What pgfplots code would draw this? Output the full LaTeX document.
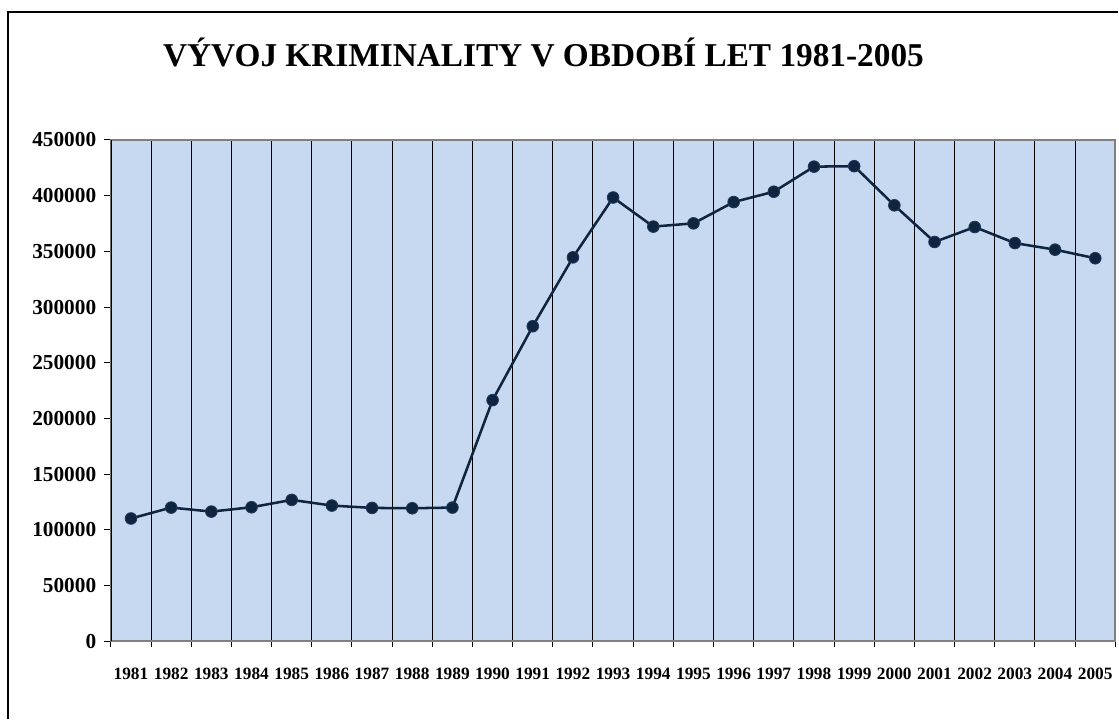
\documentclass[border=0pt]{standalone}
\usepackage{fontspec}
\setmainfont{Liberation Serif}
\usepackage{pgfplots}
\pgfplotsset{compat=1.18}
\definecolor{plotbg}{HTML}{C6D9F0}
\definecolor{navy}{HTML}{0F243E}
\definecolor{navyedge}{HTML}{1F3A60}
\definecolor{framegray}{HTML}{808080}

\begin{document}
\begin{tikzpicture}[x=0.75pt,y=-0.75pt]
% page = 1119 x 720 px, 1px = 0.75pt
\path (0,0) rectangle (1119,720);
\draw[line width=1.5pt] (8,720) -- (8,12) -- (1119,12);
\node[font=\bfseries\fontsize{25}{30}\selectfont, anchor=base] at (544,67)
  {VÝVOJ KRIMINALITY V OBDOBÍ LET 1981-2005};

\begin{axis}[
  at={(83.25pt,-481.5pt)}, anchor=south west,
  scale only axis,
  width=754pt, height=376.5pt,
  xmin=1980.5, xmax=2005.5,
  ymin=0, ymax=450000,
  ytick distance=50000,
  scaled y ticks=false,
  xtick={1981,...,2005},
  minor xtick={1980.5,1981.5,...,2005.5},
  xtick pos=lower, ytick pos=left,
  xminorgrids=true,
  minor x grid style={black, line width=0.75pt},
  major x tick style={draw=none},
  tick align=outside,
  major tick length=5pt,
  minor tick length=4pt,
  tick style={black, line width=0.75pt},
  axis background/.style={fill=plotbg},
  axis line style={draw=framegray, line width=1.5pt},
  /pgf/number format/assume math mode=true,
  /pgf/number format/fixed,
  /pgf/number format/1000 sep={},
  xticklabel style={font=\bfseries\fontsize{13}{13}\selectfont, yshift=-11.5pt},
  yticklabel style={font=\bfseries\fontsize{16}{16}\selectfont, xshift=-2.5pt},
]
\addplot[navy, line width=1.9pt, mark=*, mark size=4.4pt,
  mark options={fill=navy, draw=navyedge, line width=0.6pt}]
  coordinates {
  (1981,110300) (1982,120100) (1983,116500) (1984,120400) (1985,127000)
  (1986,121900) (1987,119800) (1988,119500) (1989,120100) (1990,216500)
  (1991,282800) (1992,344600) (1993,398300) (1994,372200) (1995,375100)
  (1996,394200) (1997,403500) (1998,426000) (1999,426400) (2000,391300)
  (2001,358400) (2002,371800) (2003,357400) (2004,351500) (2005,343800)
  };
\draw[black, line width=1.2pt] (rel axis cs:0,0) -- (rel axis cs:0,1);
\end{axis}
\end{tikzpicture}
\end{document}
